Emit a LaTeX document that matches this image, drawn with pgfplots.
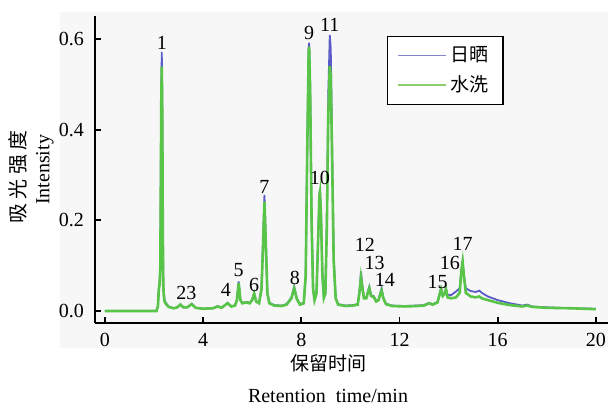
\documentclass[border=0pt]{standalone}
\usepackage{fontspec}
\setmainfont{Liberation Serif}
\newfontfamily\cjk{Noto Sans CJK SC}
\usepackage{pgfplots}
\usepackage{pgfplotstable}
\pgfplotsset{compat=1.18}
\definecolor{cpur}{RGB}{92,92,200}
\definecolor{cgrn}{RGB}{88,196,72}
\definecolor{lpur}{RGB}{130,130,205}
\definecolor{lgrn}{RGB}{140,205,110}
\definecolor{bg}{RGB}{247,247,247}
\pgfplotstableread{
x a b
0.00 0.000 0.000
2.10 0.000 0.000
2.16 0.010 0.010
2.20 0.050 0.048
2.23 0.062 0.060
2.26 0.100 0.095
2.28 0.300 0.280
2.30 0.500 0.470
2.32 0.572 0.539
2.34 0.450 0.430
2.36 0.200 0.190
2.38 0.060 0.055
2.40 0.043 0.035
2.43 0.025 0.022
2.48 0.018 0.016
2.60 0.010 0.009
2.80 0.006 0.006
2.95 0.008 0.008
3.08 0.015 0.014
3.20 0.008 0.008
3.35 0.008 0.008
3.54 0.016 0.015
3.70 0.007 0.007
4.00 0.005 0.005
4.40 0.006 0.006
4.60 0.011 0.010
4.75 0.007 0.007
5.00 0.018 0.017
5.15 0.010 0.010
5.30 0.012 0.012
5.38 0.025 0.024
5.45 0.065 0.062
5.52 0.025 0.024
5.60 0.018 0.017
5.75 0.020 0.019
5.90 0.018 0.017
6.00 0.025 0.024
6.08 0.040 0.038
6.16 0.022 0.021
6.28 0.018 0.017
6.38 0.050 0.048
6.44 0.150 0.140
6.50 0.256 0.241
6.56 0.150 0.140
6.62 0.040 0.038
6.70 0.018 0.017
6.90 0.013 0.012
7.20 0.012 0.011
7.40 0.015 0.014
7.60 0.030 0.028
7.71 0.054 0.050
7.82 0.028 0.026
7.95 0.015 0.014
8.10 0.018 0.017
8.18 0.080 0.078
8.24 0.350 0.345
8.30 0.580 0.572
8.32 0.592 0.583
8.36 0.500 0.492
8.42 0.200 0.196
8.48 0.050 0.048
8.54 0.025 0.024
8.62 0.040 0.039
8.68 0.150 0.147
8.74 0.260 0.255
8.76 0.267 0.262
8.80 0.220 0.216
8.86 0.080 0.078
8.92 0.030 0.029
8.98 0.040 0.038
9.04 0.200 0.180
9.10 0.480 0.430
9.16 0.609 0.540
9.20 0.580 0.520
9.26 0.350 0.320
9.32 0.120 0.110
9.40 0.030 0.028
9.50 0.015 0.014
9.80 0.012 0.011
10.10 0.013 0.012
10.30 0.015 0.014
10.38 0.050 0.045
10.43 0.087 0.074
10.48 0.060 0.055
10.55 0.030 0.028
10.65 0.030 0.028
10.72 0.045 0.042
10.77 0.054 0.050
10.84 0.035 0.033
10.95 0.033 0.031
11.05 0.022 0.021
11.15 0.025 0.024
11.22 0.040 0.038
11.27 0.050 0.045
11.34 0.030 0.028
11.45 0.016 0.015
11.70 0.012 0.011
12.20 0.011 0.010
12.70 0.012 0.011
13.00 0.013 0.012
13.20 0.018 0.017
13.35 0.015 0.014
13.55 0.020 0.019
13.63 0.038 0.036
13.69 0.050 0.048
13.76 0.035 0.033
13.82 0.038 0.036
13.89 0.050 0.048
13.96 0.035 0.030
14.10 0.035 0.028
14.30 0.043 0.030
14.45 0.050 0.040
14.52 0.090 0.090
14.57 0.108 0.109
14.62 0.080 0.078
14.70 0.050 0.040
14.90 0.044 0.032
15.10 0.042 0.030
15.25 0.045 0.032
15.35 0.040 0.028
15.60 0.032 0.024
16.00 0.024 0.018
16.50 0.017 0.013
17.00 0.012 0.010
17.20 0.014 0.012
17.40 0.010 0.009
18.00 0.008 0.007
19.00 0.006 0.006
20.00 0.005 0.004
}\chrom
\begin{document}
\begin{tikzpicture}[font=\fontsize{10}{12}\selectfont]
\path[use as bounding box] (0,0) rectangle (304pt,203.5pt);
\fill[bg] (30pt,29.5pt) rectangle (304pt,197.5pt);
\begin{axis}[
  at={(47.5pt,42pt)}, anchor=south west,
  width=256.5pt, height=153.5pt, scale only axis,
  xmin=-0.4, xmax=20.49, ymin=-0.0265, ymax=0.651,
  axis x line=bottom, axis y line=left,
  axis line style={-, line width=0.9pt},
  tick align=inside, major tick length=3pt,
  tick style={line width=0.9pt, black},
  xtick={0,4,8,12,16,20}, ytick={0,0.2,0.4,0.6},
  /pgf/number format/assume math mode=true,
  yticklabel style={/pgf/number format/fixed, /pgf/number format/fixed zerofill, /pgf/number format/precision=1, xshift=-2pt},
  xticklabel style={yshift=-1.5pt},
  clip=false,
  legend style={at={(0.569,0.935)}, anchor=north west, draw=black, line width=0.6pt, fill=white,
    font=\cjk\fontsize{9.5}{11}\selectfont, inner xsep=5pt, inner ysep=3pt, row sep=1.5pt},
  legend cell align=left,
  legend image code/.code={\draw[#1, line width=0.7pt] (0pt,0pt) -- (24pt,0pt);},
]
\addplot[cpur, line width=0.9pt, forget plot] table[x=x, y=a] {\chrom};
\addplot[cgrn, line width=1.3pt, forget plot] table[x=x, y=b] {\chrom};
\addlegendimage{lpur}
\addlegendentry{日晒}
\addlegendimage{lgrn}
\addlegendentry{水洗}
\node at (axis cs:2.32,0.592) {1};
\node at (axis cs:3.32,0.039) {23};
\node at (axis cs:4.93,0.046) {4};
\node at (axis cs:5.45,0.091) {5};
\node at (axis cs:6.08,0.057) {6};
\node at (axis cs:6.50,0.274) {7};
\node at (axis cs:7.74,0.072) {8};
\node at (axis cs:8.32,0.613) {9};
\node at (axis cs:8.76,0.293) {10};
\node at (axis cs:9.16,0.631) {11};
\node at (axis cs:10.59,0.146) {12};
\node at (axis cs:10.99,0.106) {13};
\node at (axis cs:11.40,0.068) {14};
\node at (axis cs:13.55,0.065) {15};
\node at (axis cs:14.05,0.105) {16};
\node at (axis cs:14.57,0.149) {17};
\end{axis}
\node[rotate=90, font=\cjk\fontsize{10}{12}\selectfont] at (9pt,115pt) {吸\hspace{2pt}光\hspace{2pt}强\hspace{2pt}度};
\node[rotate=90] at (22.5pt,118.5pt) {Intensity};
\node[font=\cjk\fontsize{9.5}{11}\selectfont] at (164pt,22pt) {保留时间};
\node at (164pt,5.5pt) {Retention\ \ time/min};
\end{tikzpicture}
\end{document}
